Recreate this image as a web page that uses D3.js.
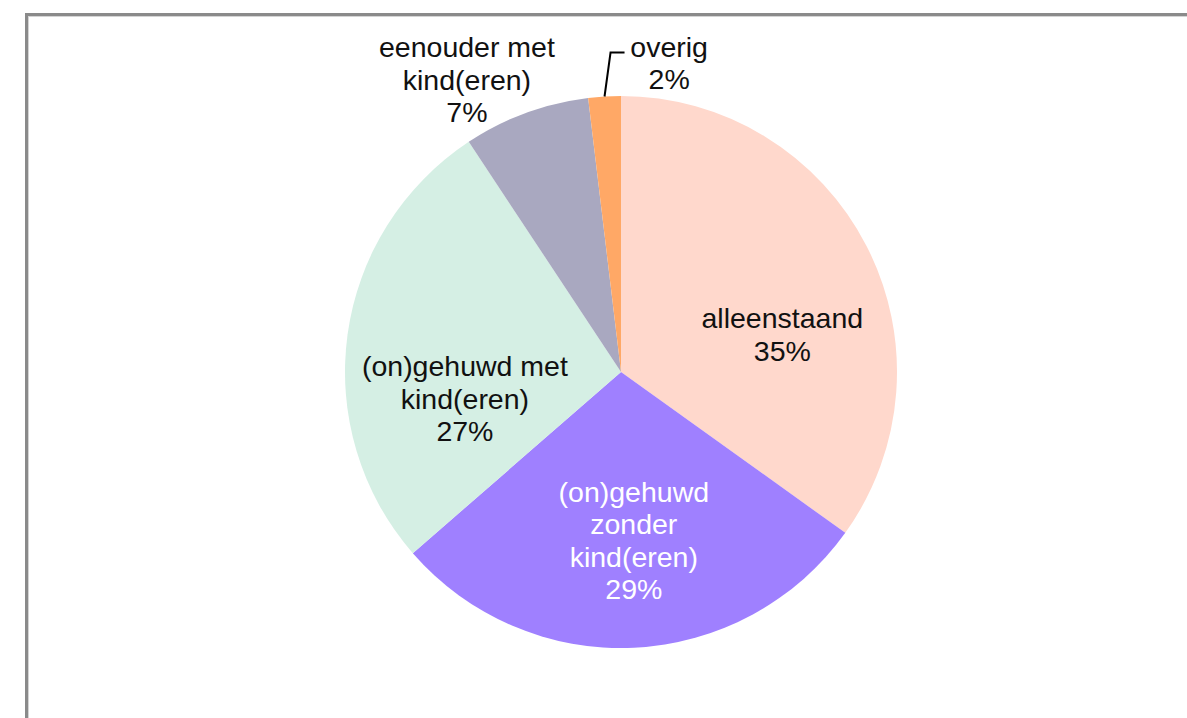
<!DOCTYPE html>
<html><head><meta charset="utf-8">
<script src="https://cdn.jsdelivr.net/npm/d3@7"></script>
<style>html,body{margin:0;padding:0;background:#fff;overflow:hidden}</style>
</head><body>
<svg id="chart" width="1187" height="718"></svg>
<script>
const categories = ["alleenstaand", "(on)gehuwd zonder kind(eren)", "(on)gehuwd met kind(eren)", "eenouder met kind(eren)", "overig"];
const values = [34.9, 28.7, 27.1, 7.4, 1.9];
const labelLines = [["alleenstaand"], ["(on)gehuwd", "zonder", "kind(eren)"], ["(on)gehuwd met", "kind(eren)"], ["eenouder met", "kind(eren)"], ["overig"]];
const colors = ["#FFD8CC", "#9F80FF", "#D5EFE4", "#A9A8C0", "#FFA866"];
const textColors = ["#111", "#fff", "#111", "#111", "#111"];

const svg = d3.select("#chart");
// frame
svg.append("rect").attr("x", 26.5).attr("y", 14.5).attr("width", 1300).attr("height", 900)
  .attr("fill", "none").attr("stroke", "#8a8a8a").attr("stroke-width", 3);
svg.append("rect").attr("x", 28.5).attr("y", 16.5).attr("width", 1300).attr("height", 900)
  .attr("fill", "none").attr("stroke", "#d4d4d4").attr("stroke-width", 1);

const cx = 621, cy = 372, R = 276;
const g = svg.append("g").attr("transform", `translate(${cx},${cy})`);
const pie = d3.pie().sort(null).value(d => d)(values);
const arc = d3.arc().innerRadius(0).outerRadius(R);
g.selectAll("path.slice").data(pie).join("path").attr("class", "slice")
  .attr("d", arc).attr("fill", (d, i) => colors[i]);

// label layout: centroid on label arc plus nudges (layout, not data)
const labelArc = d3.arc().innerRadius(R * 0.6).outerRadius(R * 0.6);
const nudges = [[14, 38], [5, 3], [8, 49], [-97, -137], [58, -144]];
const fs = 28.5, lh = 32.5;
pie.forEach((d, i) => {
  const c = labelArc.centroid(d);
  const x = c[0] + nudges[i][0], y = c[1] + nudges[i][1];
  const lines = labelLines[i].concat([Math.round(values[i]) + "%"]);
  const t = g.append("text").attr("text-anchor", "middle")
    .attr("font-family", "Liberation Sans, Arial, sans-serif").attr("font-size", fs)
    .attr("fill", textColors[i])
    .attr("transform", `translate(${x},${y})`);
  lines.forEach((s, k) => {
    t.append("tspan").attr("x", 0).attr("y", (k - (lines.length - 1) / 2) * lh + fs * 0.36).text(s);
  });
});

// leader line for "overig"
const ov = pie[4];
const mid = (ov.startAngle + ov.endAngle) / 2;
const p0 = [Math.sin(mid) * R, -Math.cos(mid) * R];
g.append("path").attr("fill", "none").attr("stroke", "#000").attr("stroke-width", 2)
  .attr("d", d3.line()([p0, [p0[0] + 6, p0[1] - 44], [p0[0] + 20, p0[1] - 44]]));
</script>
</body></html>
